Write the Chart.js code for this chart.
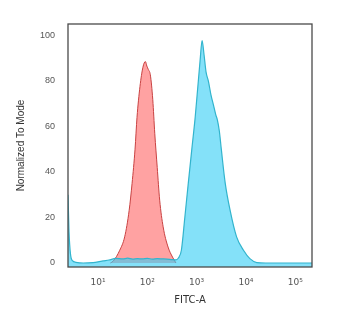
<!DOCTYPE html>
<html lang="en">
<head>
    <meta charset="UTF-8">
    <title>FITC-A histogram</title>
    <style>
        html, body { margin: 0; padding: 0; background: #fff; }
        #wrap { width: 350px; height: 322px; }
    </style>
</head>
<body>
    <div id="wrap"><canvas id="histChart" width="350" height="322"></canvas></div>

    <script src="https://cdn.jsdelivr.net/npm/chart.js"></script>
    <script>
        // x values are log10(FITC-A), y is % of mode
        const redLog = [1.25, 1.31, 1.44, 1.54, 1.63, 1.69, 1.75, 1.79, 1.85, 1.91, 1.96, 1.99, 2.02, 2.06, 2.11, 2.15, 2.20, 2.25, 2.32, 2.42, 2.51, 2.58];
        const redVal = [0, 0.9, 5.6, 11.5, 23, 35, 50, 64, 77.5, 86, 88.5, 86.5, 85, 82.7, 71.7, 57, 42, 27.6, 15.9, 7, 2.6, 0];

        const cyanLog = [0.39, 0.41, 0.44, 0.48, 0.55, 0.7, 0.9, 1.0, 1.1, 1.22, 1.36, 1.5, 1.6, 1.7, 1.8, 1.9, 2.0, 2.1, 2.2, 2.3, 2.4, 2.5, 2.58, 2.63, 2.69, 2.76, 2.83, 2.90, 2.97, 3.03, 3.07, 3.11, 3.15, 3.19, 3.24, 3.29, 3.34, 3.39, 3.42, 3.46, 3.50, 3.58, 3.68, 3.81, 3.95, 4.08, 4.22, 4.4, 5.34];
        const cyanVal = [30, 14, 4, 1, 0.3, 0, 0.2, 0.5, 0.9, 1.3, 2.0, 1.8, 2.1, 1.7, 1.9, 1.8, 2.0, 1.7, 1.9, 1.8, 1.7, 1.5, 1.4, 2.2, 5.6, 20, 35, 49.6, 64, 79, 89, 97.7, 91.5, 84, 79.7, 73.9, 69.5, 65, 62.9, 58, 50, 35, 23, 11.5, 5.6, 1.9, 0.2, 0, 0];

        const xTicks = [1, 2, 3, 4, 5];
        const yTicks = [0, 20, 40, 60, 80, 100];
        const sup = { 1: '\u00b9', 2: '\u00b2', 3: '\u00b3', 4: '\u2074', 5: '\u2075' };

        const toPoints = (xs, ys) => xs.map((x, i) => ({ x: x, y: ys[i] }));

        // plot frame on all four sides
        const frame = {
            id: 'frame',
            afterDraw(chart) {
                const a = chart.chartArea, c = chart.ctx;
                c.save();
                c.strokeStyle = '#4a4a4a';
                c.lineWidth = 1.3;
                c.strokeRect(a.left, a.top, a.right - a.left, a.bottom - a.top);
                c.restore();
            }
        };

        const ctx = document.getElementById('histChart').getContext('2d');
        new Chart(ctx, {
            type: 'line',
            data: {
                datasets: [{
                    label: 'Isotype',
                    data: toPoints(redLog, redVal),
                    borderColor: 'rgb(200, 65, 65)',
                    backgroundColor: 'rgba(255, 70, 70, 0.5)',
                    borderWidth: 1,
                    fill: 'origin',
                    pointRadius: 0,
                    cubicInterpolationMode: 'monotone',
                    order: 2
                }, {
                    label: 'Sample',
                    data: toPoints(cyanLog, cyanVal),
                    borderColor: 'rgb(50, 180, 205)',
                    backgroundColor: 'rgba(50, 205, 245, 0.6)',
                    borderWidth: 1.2,
                    fill: 'start',
                    pointRadius: 0,
                    cubicInterpolationMode: 'monotone',
                    order: 1
                }]
            },
            options: {
                responsive: false,
                animation: false,
                layout: { padding: { top: 24, right: 38, left: 8, bottom: 13 } },
                plugins: {
                    legend: { display: false },
                    tooltip: { enabled: false }
                },
                scales: {
                    x: {
                        type: 'linear',
                        min: 0.39,
                        max: 5.34,
                        afterBuildTicks: (scale) => { scale.ticks = xTicks.map(v => ({ value: v })); },
                        afterFit: (scale) => { scale.height = 42; },
                        grid: { display: false, drawTicks: false },
                        border: { display: false },
                        ticks: {
                            padding: 10,
                            color: '#555',
                            font: { family: 'DejaVu Sans', size: 9 },
                            callback: (v) => '10' + sup[v]
                        },
                        title: {
                            display: true,
                            text: 'FITC-A',
                            color: '#333',
                            font: { family: 'DejaVu Sans', size: 10 },
                            padding: { top: 2, bottom: 3 }
                        }
                    },
                    y: {
                        min: -1.76,
                        max: 105,
                        afterBuildTicks: (scale) => { scale.ticks = yTicks.map(v => ({ value: v })); },
                        afterFit: (scale) => { scale.width = 60; },
                        grid: { display: false, drawTicks: false },
                        border: { display: false },
                        ticks: {
                            padding: 13,
                            color: '#555',
                            font: { family: 'Liberation Sans', size: 9 }
                        },
                        title: {
                            display: true,
                            text: 'Normalized To Mode',
                            color: '#333',
                            font: { family: 'Liberation Sans', size: 10 },
                            padding: { top: 7, bottom: 0 }
                        }
                    }
                }
            },
            plugins: [frame]
        });
    </script>
</body>
</html>
